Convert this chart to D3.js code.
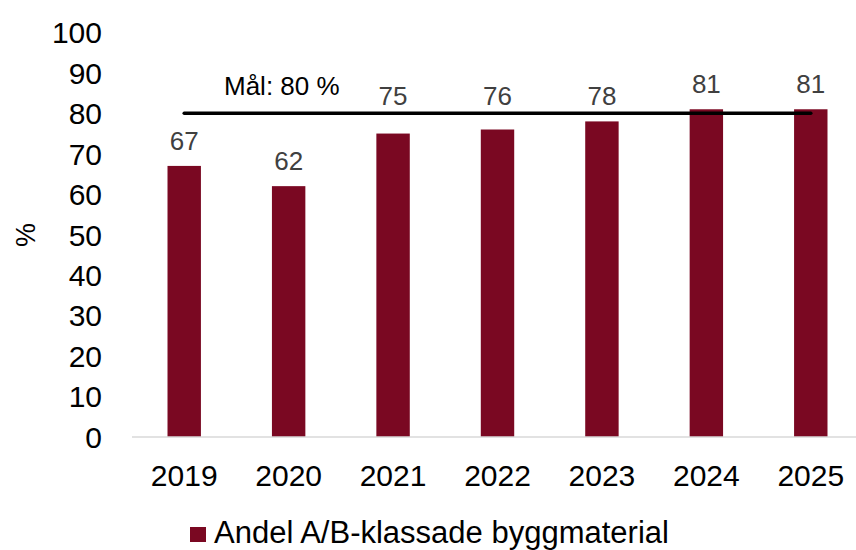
<!DOCTYPE html>
<html>
<head>
<meta charset="utf-8">
<script src="https://cdn.jsdelivr.net/npm/d3@7"></script>
<style>
  body { margin: 0; background: #fff; }
  svg { font-family: "Liberation Sans", Arial, sans-serif; }
</style>
</head>
<body>
<svg id="chart" width="856" height="550"></svg>
<script>
var years = ["2019", "2020", "2021", "2022", "2023", "2024", "2025"];
var values = [67, 62, 75, 76, 78, 81, 81];
var target = 80;
var targetLabel = "Mål: 80 %";
var yTicks = [0, 10, 20, 30, 40, 50, 60, 70, 80, 90, 100];
var seriesName = "Andel A/B-klassade byggmaterial";
var yTitle = "%";

var barColor = "#7a0822";
var width = 856, height = 550;

var svg = d3.select("#chart");

var x = d3.scaleBand()
    .domain(years)
    .range([132, 863])
    .paddingInner(0.68)
    .paddingOuter(0.34);

var y = d3.scaleLinear()
    .domain([0, 100])
    .range([437, 32.4]);

// y tick labels (no axis line in the original)
svg.append("g")
    .selectAll("text")
    .data(yTicks)
    .join("text")
    .attr("x", 102)
    .attr("y", d => y(d))
    .attr("dy", "0.36em")
    .attr("text-anchor", "end")
    .style("font-size", "30px")
    .attr("fill", "#000")
    .text(d => d);

// y title
svg.append("text")
    .attr("transform", "translate(35,235) rotate(-90)")
    .attr("text-anchor", "middle")
    .style("font-size", "27px")
    .attr("fill", "#000")
    .text(yTitle);

// bars
svg.append("g")
    .selectAll("rect")
    .data(values)
    .join("rect")
    .attr("x", (d, i) => x(years[i]))
    .attr("width", x.bandwidth())
    .attr("y", d => y(d))
    .attr("height", d => y(0) - y(d))
    .attr("fill", barColor);

// x baseline
svg.append("line")
    .attr("x1", 132)
    .attr("x2", width)
    .attr("y1", y(0))
    .attr("y2", y(0))
    .attr("stroke", "#d9d9d9")
    .attr("stroke-width", 1.5);

// x labels
svg.append("g")
    .selectAll("text")
    .data(years)
    .join("text")
    .attr("x", d => x(d) + x.bandwidth() / 2)
    .attr("y", 486)
    .attr("text-anchor", "middle")
    .style("font-size", "30px")
    .attr("fill", "#000")
    .text(d => d);

// target line
var cx = d => x(d) + x.bandwidth() / 2;
svg.append("line")
    .attr("x1", cx(years[0]))
    .attr("x2", cx(years[years.length - 1]))
    .attr("y1", y(target))
    .attr("y2", y(target))
    .attr("stroke", "#000")
    .attr("stroke-width", 3.5)
    .attr("stroke-linecap", "round");

svg.append("text")
    .attr("x", 224)
    .attr("y", 95)
    .style("font-size", "26px")
    .attr("fill", "#000")
    .text(targetLabel);

// data labels; moved above the target line when they would overlap it
function labelY(v) {
  var base = y(v) - 16;
  var lineY = y(target);
  if (base > lineY - 8 && base - 20 < lineY + 2) return lineY - 8;
  return base;
}
svg.append("g")
    .selectAll("text")
    .data(values)
    .join("text")
    .attr("x", (d, i) => cx(years[i]))
    .attr("y", d => labelY(d))
    .attr("text-anchor", "middle")
    .style("font-size", "26px")
    .attr("fill", "#404040")
    .text(d => d);

// legend
var legend = svg.append("g");
legend.append("rect")
    .attr("x", 190)
    .attr("y", 527)
    .attr("width", 16)
    .attr("height", 15)
    .attr("fill", barColor);
legend.append("text")
    .attr("x", 214)
    .attr("y", 543)
    .style("font-size", "31px")
    .attr("fill", "#000")
    .text(seriesName);
</script>
</body>
</html>
